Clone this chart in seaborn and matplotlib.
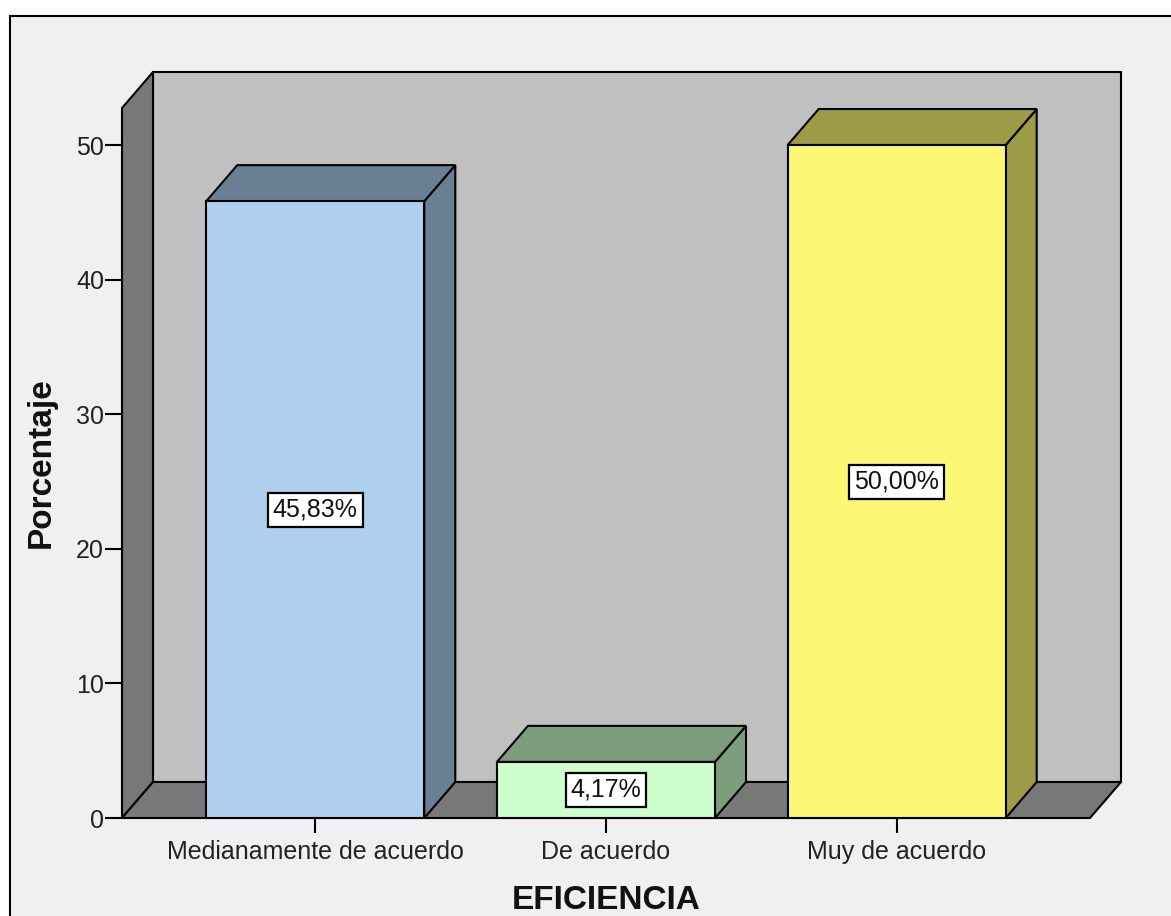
import matplotlib
matplotlib.use("Agg")
import matplotlib.pyplot as plt
from matplotlib.patches import Polygon, Rectangle
import seaborn as sns
import pandas as pd

# Frequency table: EFICIENCIA
categorias = ["Medianamente de acuerdo", "De acuerdo", "Muy de acuerdo"]
porcentajes = [45.83, 4.17, 50.00]
colores_frente = ["#aed0ee", "#ccffcc", "#fcf775"]
colores_sombra = ["#6b7f94", "#7d9e7d", "#9e9b47"]
ticks_y = [0, 10, 20, 30, 40, 50]

sns.set_style("white")
plt.rcParams["font.family"] = ["Liberation Sans", "DejaVu Sans"]

W, H = 1171, 916
fig = plt.figure(figsize=(W / 100, H / 100), dpi=100, facecolor="white")

# Grey panel with a thin black frame
fig.patches.append(Rectangle((10 / W, -0.1), 1.2, 1 - 16 / H + 0.1,
                             transform=fig.transFigure, facecolor="#f0f0f0",
                             edgecolor="black", linewidth=1.5, zorder=-10))

ax = fig.add_axes([122 / W, 1 - 818 / H, (1090 - 122) / W, (818 - 108) / H])
ax.patch.set_visible(False)

df = pd.DataFrame({"EFICIENCIA": categorias, "Porcentaje": porcentajes})
sns.barplot(data=df, x="EFICIENCIA", y="Porcentaje", hue="EFICIENCIA",
            palette=colores_frente, width=0.75, edgecolor="black",
            linewidth=1.5, legend=False, ax=ax, saturation=1)
barras = sorted(ax.patches, key=lambda p: p.get_x())

x0, x1 = -0.665, 2.665
y0, y1 = 0, 52.75
ax.set_xlim(x0, x1)
ax.set_ylim(y0, y1)

# Depth of the 3D effect, converted from pixels to data units
inv = ax.transData.inverted()
p0 = ax.transData.transform((0, 0))
d = inv.transform(p0 + [31, 36])
dx, dy = d[0], d[1]

lw = 1.5
# Back wall
ax.add_patch(Polygon([(x0 + dx, y0 + dy), (x1 + dx, y0 + dy), (x1 + dx, y1 + dy),
                      (x0 + dx, y1 + dy)], closed=True, facecolor="#c0c0c0",
                     edgecolor="black", linewidth=lw, clip_on=False, zorder=0.5))
# Left wall
ax.add_patch(Polygon([(x0, y0), (x0, y1), (x0 + dx, y1 + dy), (x0 + dx, y0 + dy)],
                     closed=True, facecolor="#787878", edgecolor="black",
                     linewidth=lw, clip_on=False, zorder=0.6))
# Floor
ax.add_patch(Polygon([(x0, y0), (x1, y0), (x1 + dx, y0 + dy), (x0 + dx, y0 + dy)],
                     closed=True, facecolor="#787878", edgecolor="black",
                     linewidth=lw, clip_on=False, zorder=0.7))

# Top and side faces for each bar
for bar, sombra, valor in zip(barras, colores_sombra, porcentajes):
    bx, bw, bh = bar.get_x(), bar.get_width(), bar.get_height()
    top = [(bx, bh), (bx + bw, bh), (bx + bw + dx, bh + dy), (bx + dx, bh + dy)]
    side = [(bx + bw, 0), (bx + bw, bh), (bx + bw + dx, bh + dy), (bx + bw + dx, dy)]
    for poly in (side, top):
        ax.add_patch(Polygon(poly, closed=True, facecolor=sombra, edgecolor="black",
                             linewidth=lw, clip_on=False, zorder=1.5))
    bar.set_zorder(2)
    bar.set_clip_on(False)
    etiqueta = f"{valor:.2f}%".replace(".", ",")
    ax.text(bx + bw / 2, valor / 2, etiqueta, ha="center", va="center",
            fontsize=18, color="#111111", zorder=3,
            bbox=dict(boxstyle="square,pad=0.2", facecolor="white",
                      edgecolor="black", linewidth=1.6))

for s in ax.spines.values():
    s.set_visible(False)

ax.set_yticks(ticks_y)
ax.tick_params(axis="y", direction="out", length=12, width=1.5, color="black",
               labelsize=18, labelcolor="#222222", pad=1, left=True)
ax.tick_params(axis="x", direction="out", length=11, width=1.5, color="black",
               labelsize=18, labelcolor="#222222", pad=5, bottom=True)

ax.set_xlabel("EFICIENCIA", fontsize=24, fontweight="bold", labelpad=15,
              color="#111111")
ax.set_ylabel("Porcentaje", fontsize=24, fontweight="bold", labelpad=14,
              color="#111111")

fig.savefig("out.png", dpi=100, facecolor=fig.get_facecolor())
